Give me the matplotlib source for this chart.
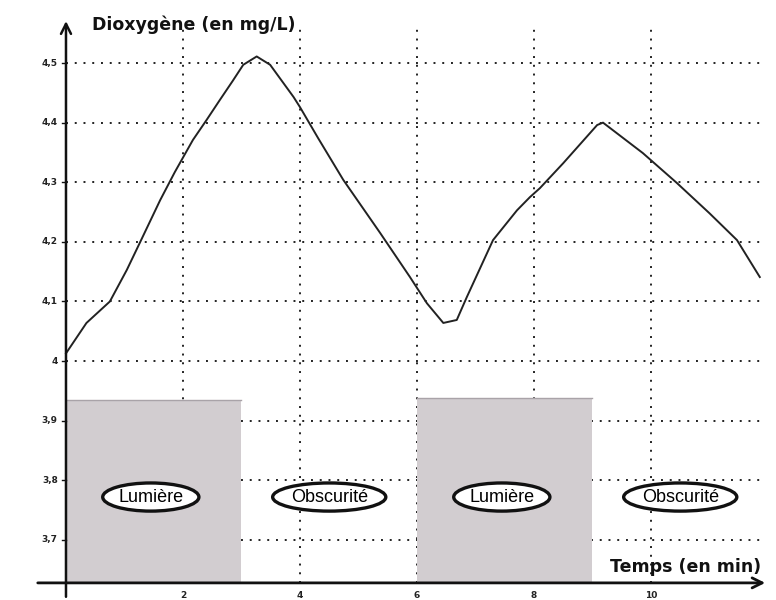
import matplotlib
matplotlib.use("Agg")
import matplotlib.pyplot as plt

# readings (time in min, O2 in mg/L)
temps = [0.0, 0.35, 0.75, 1.04, 1.26, 1.61, 1.86, 2.17, 2.40, 2.63, 2.85, 3.03, 3.26,
         3.49, 3.89, 4.0, 4.31, 4.74, 5.37, 5.88, 6.17, 6.45, 6.68, 6.85, 7.30,
         7.71, 7.93, 8.10, 8.50, 9.08, 9.18, 9.86, 10.44, 11.0, 11.47, 11.86]
o2 = [4.013, 4.064, 4.100, 4.153, 4.198, 4.270, 4.317, 4.371, 4.404, 4.438, 4.470, 4.497, 4.511,
      4.497, 4.443, 4.426, 4.374, 4.304, 4.215, 4.141, 4.097, 4.064, 4.069, 4.107, 4.203,
      4.253, 4.275, 4.290, 4.332, 4.396, 4.400, 4.349, 4.299, 4.248, 4.203, 4.141]

# light / dark phases
phases = ["Lumière", "Obscurité", "Lumière", "Obscurité"]
phase_start = [0.0, 3.0, 6.0, 9.0]
phase_end = [3.0, 6.0, 9.0, 12.0]
phase_top = [3.935, None, 3.938, None]

y_ticks = [3.7, 3.8, 3.9, 4.0, 4.1, 4.2, 4.3, 4.4, 4.5]
y_labels = ["3,7", "3,8", "3,9", "4", "4,1", "4,2", "4,3", "4,4", "4,5"]
x_ticks = [2, 4, 6, 8, 10]
x_labels = ["2", "4", "6", "8", "10"]

fig = plt.figure(figsize=(7.76, 6), dpi=100)
ax = fig.add_axes([0, 0, 1, 1])
ax.set_xlim(-1.128, 12.137)
ax.set_ylim(3.5993, 4.6057)
ax.axis("off")

x0, y0 = 0.0, 3.628
x_end, y_top = 11.9, 4.575

# dotted grid
dots = (0, (1, 3.5))
ax.hlines(y_ticks, 0, x_end, colors="#222222", linestyles=dots, lw=1.4, zorder=1)
ax.vlines(x_ticks, y0, 4.56, colors="#222222", linestyles=dots, lw=1.4, zorder=1)

# shaded light periods
for name, a, b, top in zip(phases, phase_start, phase_end, phase_top):
    if top is not None:
        ax.fill_between([a, b], y0, top, color="#d2cdd0", zorder=2, lw=0)
        ax.plot([a, b], [top, top], color="#a9a3a8", lw=1, zorder=2)
    ax.text((a + b) / 2 + (-0.05 if name == "Lumière" else 0.0), 3.772, name,
            ha="center", va="center", fontsize=13, family="Liberation Sans", zorder=5,
            bbox=dict(boxstyle="ellipse,pad=0.08", fc="white", ec="#111111", lw=2.4))

# the measured curve
ax.plot(temps, o2, color="#222222", lw=1.4, zorder=4)

# axes with arrows
ax.annotate("", xy=(x_end + 0.1, y0), xytext=(-0.53, y0),
            arrowprops=dict(arrowstyle="->", lw=2, color="#111111", mutation_scale=18), zorder=6)
ax.annotate("", xy=(x0, y_top), xytext=(x0, 3.6),
            arrowprops=dict(arrowstyle="->", lw=1.8, color="#111111", mutation_scale=18), zorder=6)

for v, lab in zip(y_ticks, y_labels):
    ax.plot([-0.06, 0], [v, v], color="#111111", lw=1, zorder=6)
    ax.text(-0.14, v, lab, ha="right", va="center", fontsize=6.5, fontweight="bold", color="#222222")
for v, lab in zip(x_ticks, x_labels):
    ax.text(v, y0 - 0.013, lab, ha="center", va="top", fontsize=6.5, fontweight="bold", color="#222222")

ax.text(0.45, 4.565, "Dioxygène (en mg/L)", fontsize=12.5, fontweight="bold",
        va="center", ha="left", color="#111111")
ax.text(11.88, 3.655, "Temps (en min)", fontsize=12.5, fontweight="bold",
        va="center", ha="right", color="#111111")

fig.savefig("out.png", dpi=100)
